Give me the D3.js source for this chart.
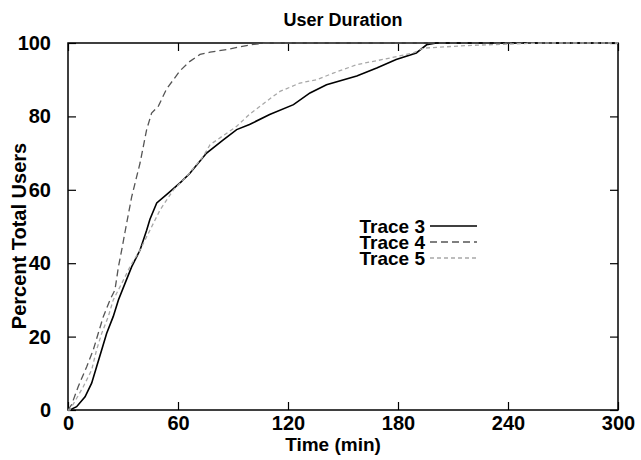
<!DOCTYPE html>
<meta charset="utf-8">
<style>
body { margin: 0; background: #fff; }
text { font-family: "Liberation Sans", Arial, sans-serif; font-weight: bold; }
.trace { fill: none; }
</style>
<body>
<script src="https://cdn.jsdelivr.net/npm/d3@7"></script>
<script>

// data (time in minutes, percent of users)
var trace3Time = [0, 1, 4.7, 9.3, 12.9, 15.6, 18.4, 21.1, 24.7, 27.5, 31.1, 34.7, 39.3, 42.9, 44.7, 48.4, 54.7, 62, 66.5, 75.6, 84.7, 92, 99, 110, 123, 132, 141, 157.5, 168.4, 179, 190, 195.6, 201, 300];
var trace3Pct  = [0, 0, 0.9, 3.6, 7.3, 11.8, 16.4, 20.9, 25.5, 30, 34.5, 39, 43.6, 49, 52, 56.4, 59.1, 62.3, 64.5, 70, 73.6, 76.4, 77.8, 80.5, 83.2, 86.4, 88.6, 91, 93.2, 95.5, 97.3, 99.5, 100, 100];

var trace4Time = [0, 2, 5.6, 10.2, 13.8, 16.5, 19.3, 22.9, 25.6, 27.5, 29.3, 31.1, 34.7, 39.3, 42.9, 45.6, 49.3, 53.8, 57.5, 61, 66.5, 72, 77.5, 86.5, 99.3, 108, 300];
var trace4Pct  = [0, 1.5, 6.4, 11.8, 16.4, 20.9, 25.5, 30, 32.7, 39, 43.6, 48.5, 58, 67.3, 76.4, 80.9, 82.8, 87.5, 90, 92.4, 95, 96.9, 97.5, 98.2, 99.5, 100, 100];

var trace5Time = [0, 1, 4.5, 8.4, 12.9, 15.6, 18.4, 22, 24.7, 29.3, 33.8, 39.3, 44.7, 50.2, 57.5, 64.7, 73.8, 77.5, 92, 99.3, 112, 115.6, 126.5, 135.7, 144.7, 157.5, 175.6, 188.4, 193.8, 217.5, 244.7, 260, 300];
var trace5Pct  = [0, 0, 3, 6.4, 10.9, 16.4, 20.9, 25.5, 30, 34.5, 39, 43.6, 49, 54.5, 60, 63.6, 69.1, 72.3, 77.3, 80.7, 85.5, 86.8, 89.1, 90, 91.8, 94.1, 95.9, 97.3, 98.6, 99.3, 99.8, 100, 100];

var traceNames = ["Trace 3", "Trace 4", "Trace 5"];
var xTicks = [0, 60, 120, 180, 240, 300];
var yTicks = [0, 20, 40, 60, 80, 100];

var margin = {top: 43, right: 23, bottom: 50, left: 68},
    width = 641 - margin.left - margin.right,
    height = 460 - margin.top - margin.bottom;

var x = d3.scaleLinear().domain([0, 300]).range([0, width]);
var y = d3.scaleLinear().domain([0, 100]).range([height, 0]);

var svg = d3.select("body").append("svg")
    .attr("width", 641)
    .attr("height", 460);

var g = svg.append("g")
    .attr("transform", "translate(" + margin.left + "," + margin.top + ")");

// ticks on all four sides, pointing inward
function styleAxis(sel) {
  sel.select(".domain").remove();
  sel.selectAll("line").attr("stroke", "#000").attr("stroke-width", 1.2);
  sel.selectAll("text")
      .style("font-size", "20px")
      .attr("fill", "#000");
}

g.append("g")
    .attr("transform", "translate(0," + height + ")")
    .call(d3.axisBottom(x).tickValues(xTicks).tickSize(-8).tickPadding(10))
    .call(styleAxis)
    .call(function(s) { s.selectAll("text").attr("dy", "0.5em"); });

g.append("g")
    .call(d3.axisTop(x).tickValues(xTicks).tickSize(-8).tickFormat(""))
    .call(styleAxis);

g.append("g")
    .call(d3.axisLeft(y).tickValues(yTicks).tickSize(-8).tickPadding(17))
    .call(styleAxis);

g.append("g")
    .attr("transform", "translate(" + width + ",0)")
    .call(d3.axisRight(y).tickValues(yTicks).tickSize(-8).tickFormat(""))
    .call(styleAxis);

// frame
g.append("rect")
    .attr("width", width)
    .attr("height", height)
    .attr("fill", "none")
    .attr("stroke", "#000")
    .attr("stroke-width", 1.5);

var traces = [
  {name: traceNames[0], t: trace3Time, p: trace3Pct, color: "#000", dash: null, w: 1.6},
  {name: traceNames[1], t: trace4Time, p: trace4Pct, color: "#555", dash: "7,4", w: 1.3},
  {name: traceNames[2], t: trace5Time, p: trace5Pct, color: "#a8a8a8", dash: "4,3", w: 1.3}
];

var line = d3.line()
    .x(function(d) { return x(d[0]); })
    .y(function(d) { return y(d[1]); });

traces.forEach(function(tr) {
  g.append("path")
      .datum(d3.zip(tr.t, tr.p))
      .attr("class", "trace")
      .attr("stroke", tr.color)
      .attr("stroke-width", tr.w)
      .attr("stroke-dasharray", tr.dash)
      .attr("d", line);
});

// legend
var legend = svg.append("g")
  .selectAll("g")
  .data(traces)
  .enter().append("g")
    .attr("transform", function(d, i) { return "translate(0," + (226 + i * 16) + ")"; });

legend.append("text")
    .attr("x", 425)
    .attr("dy", "0.35em")
    .attr("text-anchor", "end")
    .style("font-size", "19px")
    .text(function(d) { return d.name; });

legend.append("line")
    .attr("x1", 430)
    .attr("x2", 477)
    .attr("stroke", function(d) { return d.color; })
    .attr("stroke-width", function(d) { return d.w; })
    .attr("stroke-dasharray", function(d) { return d.dash; });

// titles
svg.append("text")
    .attr("x", 343)
    .attr("y", 26)
    .attr("text-anchor", "middle")
    .style("font-size", "18px")
    .text("User Duration");

svg.append("text")
    .attr("x", 333)
    .attr("y", 451)
    .attr("text-anchor", "middle")
    .style("font-size", "19px")
    .text("Time (min)");

svg.append("text")
    .attr("transform", "translate(26,236) rotate(-90)")
    .attr("text-anchor", "middle")
    .style("font-size", "20px")
    .text("Percent Total Users");

</script>
</body>
